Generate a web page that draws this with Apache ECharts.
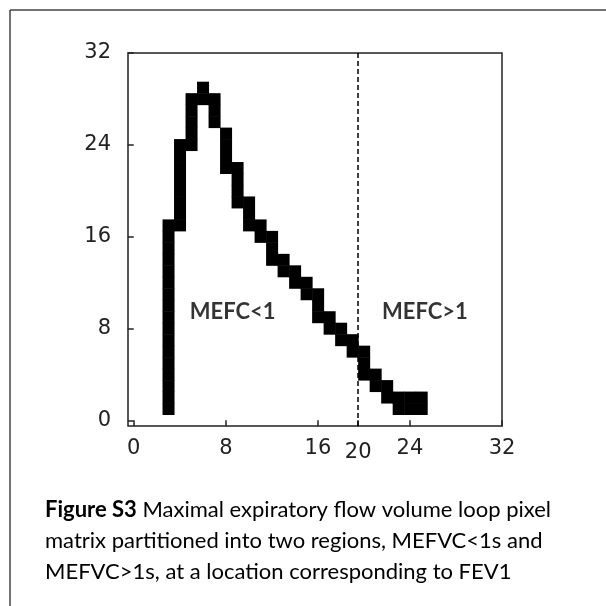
<!DOCTYPE html>
<html>
<head>
<meta charset="utf-8">
<script src="https://cdn.jsdelivr.net/npm/echarts@6/dist/echarts.min.js"></script>
<style>
html,body{margin:0;padding:0;background:#fff;}
#c{width:606px;height:606px;}
</style>
</head>
<body>
<div id="c"></div>
<script>
// Pixel matrix: for each column x, filled rows from colBottom to colTop (inclusive)
var pixelCols  = [3, 4, 5, 6, 7, 8, 9, 10, 11, 12, 13, 14, 15, 16, 17, 18, 19, 20, 21, 22, 23, 24, 25];
var colBottom  = [1, 17, 24, 28, 26, 22, 19, 17, 16, 14, 13, 12, 11, 9, 8, 7, 6, 4, 3, 2, 1, 1, 1];
var colTop     = [17, 24, 28, 29, 28, 25, 22, 19, 17, 16, 14, 13, 12, 11, 9, 8, 7, 6, 4, 3, 2, 2, 2];

var xTickValues = [0, 8, 16, 19.5, 24, 32];
var xTickLabels = ['0', '8', '16', '20', '24', '32'];
var yTickValues = [0, 8, 16, 24, 32];
var splitX = 19.5;

var regionLabels = ['MEFC<1', 'MEFC>1'];
var regionLabelX = [8.6, 25.3];
var regionLabelY = [9.4, 9.4];

var captionBold = 'Figure S3';
var captionLines = [
  ' Maximal expiratory flow volume loop pixel',
  'matrix partitioned into two regions, MEFVC<1s and',
  'MEFVC>1s, at a location corresponding to FEV1'
];

// Build cells
var cells = [];
for (var i = 0; i < pixelCols.length; i++) {
  for (var r = colBottom[i]; r <= colTop[i]; r++) {
    cells.push([pixelCols[i], r]);
  }
}
var annot = regionLabels.map(function (t, i) { return {value: [regionLabelX[i], regionLabelY[i]], name: t}; });

var chart = echarts.init(document.getElementById('c'), null, {renderer: 'canvas'});
chart.setOption({
  backgroundColor: '#fff',
  animation: false,
  grid: {left: 128, top: 53, width: 374, height: 373, show: true, borderColor: '#222', borderWidth: 1.5, backgroundColor: 'transparent'},
  xAxis: {
    type: 'value', min: -0.5, max: 32,
    axisLine: {show: false},
    splitLine: {show: false},
    axisTick: {show: true, length: 6, lineStyle: {color: '#222', width: 1.5}, customValues: xTickValues},
    axisLabel: {
      margin: 12,
      customValues: xTickValues,
      fontFamily: 'DejaVu Sans', fontSize: 21, color: '#222',
      formatter: function (v) {
        var idx = xTickValues.indexOf(v);
        var s = idx >= 0 ? xTickLabels[idx] : '';
        return v === splitX ? '{d|' + s + '}' : '{n|' + s + '}';
      },
      rich: {
        n: {fontFamily: 'DejaVu Sans', fontSize: 21, color: '#222'},
        d: {fontFamily: 'DejaVu Sans', fontSize: 21, color: '#222', padding: [4, 0, 0, 0]}
      }
    }
  },
  yAxis: {
    type: 'value', min: -0.5, max: 32,
    axisLine: {show: false},
    splitLine: {show: false},
    axisTick: {show: true, length: 6, lineStyle: {color: '#222', width: 1.5}, customValues: yTickValues},
    axisLabel: {
      margin: 17, customValues: yTickValues,
      fontFamily: 'DejaVu Sans', fontSize: 21, color: '#222',
      formatter: function (v) { return '{n|' + v + '}'; },
      rich: {n: {fontFamily: 'DejaVu Sans', fontSize: 21, color: '#222'}}
    }
  },
  series: [
    {
      type: 'custom',
      data: cells,
      renderItem: function (params, api) {
        var x = api.value(0), y = api.value(1);
        var p0 = api.coord([x - 0.5, y + 0.5]);
        var p1 = api.coord([x + 0.5, y - 0.5]);
        return {
          type: 'rect',
          shape: {x: p0[0], y: p0[1], width: p1[0] - p0[0] + 0.5, height: p1[1] - p0[1] + 0.5},
          style: {fill: '#000'}
        };
      },
      markLine: {
        silent: true, symbol: 'none',
        lineStyle: {color: '#000', type: [5, 3], width: 1.5},
        label: {show: false},
        data: [{xAxis: splitX}]
      },
      z: 2
    },
    {
      type: 'scatter',
      data: annot,
      symbolSize: 0,
      label: {
        show: true, position: 'inside',
        formatter: function (p) { return p.name; },
        fontFamily: 'Lato', fontWeight: 'bold', fontSize: 22, color: '#000'
      },
      z: 3
    }
  ],
  graphic: [
    {type: 'line', shape: {x1: 10, y1: 10, x2: 606, y2: 10}, style: {stroke: '#444', lineWidth: 1.5}},
    {type: 'line', shape: {x1: 10, y1: 10, x2: 10, y2: 606}, style: {stroke: '#444', lineWidth: 1.5}},
    {
      type: 'text', left: 45, top: 494,
      style: {
        text: '{b|' + captionBold + '}' + captionLines[0] + '\n' + captionLines[1] + '\n' + captionLines[2],
        fontFamily: 'Lato', fontSize: 22, lineHeight: 31, fill: '#000',
        rich: {b: {fontFamily: 'Lato', fontWeight: 'bold', fontSize: 22, lineHeight: 31, fill: '#000'}}
      }
    }
  ]
});
</script>
</body>
</html>
